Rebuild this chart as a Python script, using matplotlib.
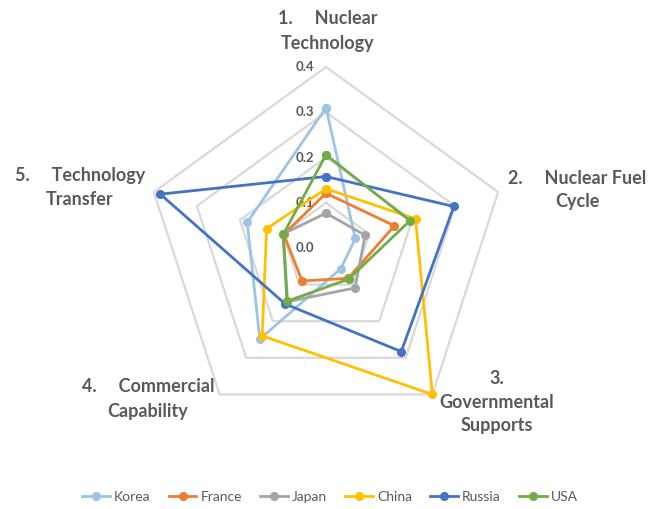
import numpy as np
import matplotlib
matplotlib.use("Agg")
import matplotlib.pyplot as plt

categories = ["1.     Nuclear\nTechnology",
              "2.     Nuclear Fuel\nCycle",
              "3.\nGovernmental\nSupports",
              "4.     Commercial\nCapability",
              "5.     Technology\nTransfer"]
series_names = ["Korea", "France", "Japan", "China", "Russia", "USA"]
korea  = [0.310, 0.068, 0.056, 0.249, 0.183]
france = [0.121, 0.159, 0.083, 0.090, 0.098]
japan  = [0.077, 0.091, 0.109, 0.147, 0.100]
china  = [0.131, 0.208, 0.400, 0.240, 0.138]
russia = [0.158, 0.297, 0.283, 0.153, 0.385]
usa    = [0.206, 0.195, 0.085, 0.145, 0.099]
r_ticks = [0.0, 0.1, 0.2, 0.3, 0.4]
r_tick_labels = ["0.0", "0.1", "0.2", "0.3", "0.4"]

colors = ["#9DC3E6", "#ED7D31", "#A5A5A5", "#FFC000", "#4472C4", "#70AD47"]
data = [korea, france, japan, china, russia, usa]

W, H = 666, 509
fig = plt.figure(figsize=(W / 100, H / 100), dpi=100)
cx, cy, R = 326, 248, 181
ax = fig.add_axes([(cx - R) / W, (H - cy - R) / H, 2 * R / W, 2 * R / H],
                  projection="polar")
ax.set_theta_offset(np.pi / 2)
ax.set_theta_direction(-1)
ax.set_ylim(0, 0.4)
ax.spines["polar"].set_visible(False)
ax.grid(False)
ax.set_xticks([])
ax.set_yticks([])
ax.patch.set_alpha(0)

n = len(categories)
angles = np.linspace(0, 2 * np.pi, n, endpoint=False)
closed = np.concatenate([angles, angles[:1]])

# pentagon gridlines
for r in r_ticks[1:]:
    ax.plot(closed, [r] * (n + 1), color="#D9D9D9", lw=1.6, zorder=1,
            clip_on=False)

for name, vals, c in zip(series_names, data, colors):
    v = list(vals) + [vals[0]]
    ax.plot(closed, v, color=c, lw=2, marker="o", markersize=5.5,
            label=name, zorder=3, clip_on=False)

gray = "#595959"
for r, lab in zip(r_ticks, r_tick_labels):
    ax.annotate(lab, xy=(0, r), xytext=(-15, 0), textcoords="offset points",
                ha="center", va="center", fontsize=9.5, fontweight="bold",
                color=gray, family="Lato", zorder=2)

label_pos = [(328, 31), (577, 190), (497, 402), (148, 399), (80, 188)]
for lab, (x, y) in zip(categories, label_pos):
    fig.text(x / W, 1 - y / H, lab, ha="center", va="center",
             multialignment="center", fontsize=13, fontweight="bold",
             color=gray, family="Lato", linespacing=1.5)

leg = fig.legend(loc="center", bbox_to_anchor=(330 / W, 1 - 497 / H), ncol=6,
                 frameon=False, handlelength=2.0, handletextpad=0.3,
                 columnspacing=1.3, prop={"family": "Lato", "size": 10})
for t in leg.get_texts():
    t.set_color(gray)

fig.savefig("out.png", dpi=100)
